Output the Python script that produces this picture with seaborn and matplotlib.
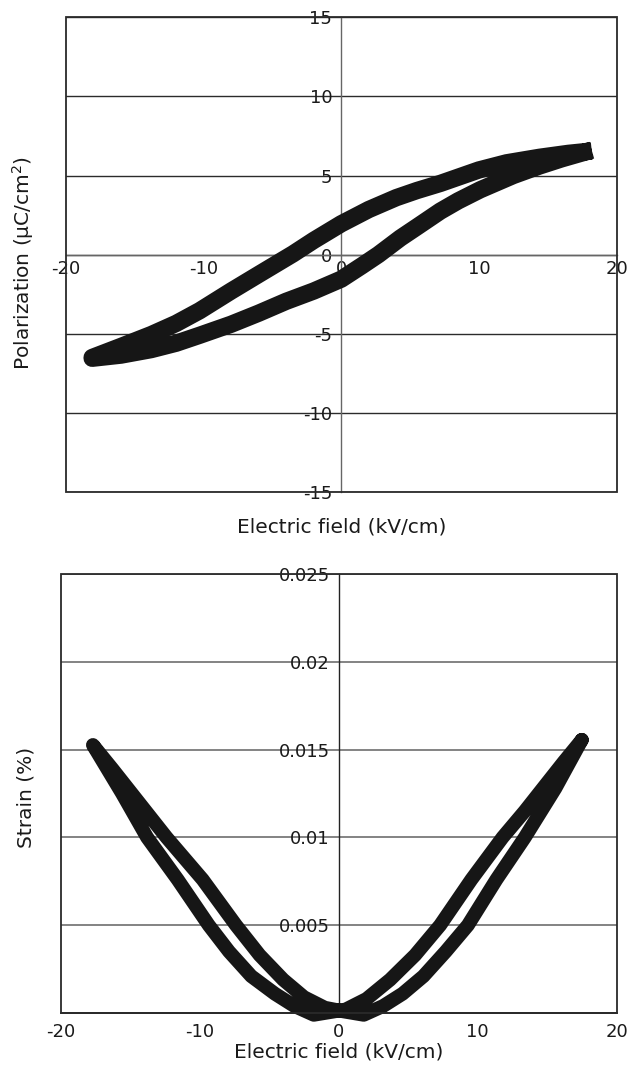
import matplotlib
matplotlib.use("Agg")
import matplotlib.pyplot as plt
import matplotlib.patches as mpatches
import numpy as np
import pandas as pd
import seaborn as sns

# ---- Polarization loop (field sweep down, then back up) ----
pe_field_down = [18.2, 16.5, 14.4, 12.0, 10.0, 7.2, 5.5, 4.0, 2.0, 0.0, -2.0, -3.5,
                 -5.9, -8.0, -10.3, -12.0, -13.8, -16.0, -18.1]
pe_pol_down = [6.55, 6.4, 6.15, 5.8, 5.35, 4.5, 4.05, 3.6, 2.85, 1.95, 0.9, 0.05,
               -1.2, -2.3, -3.55, -4.35, -5.05, -5.8, -6.5]
pe_field_up = [-18.1, -16.0, -13.8, -12.0, -10.3, -8.0, -6.0, -4.0, -2.0, 0.0, 1.5,
               2.7, 4.3, 5.5, 7.2, 8.5, 10.1, 12.5, 14.4, 16.0, 18.2]
pe_pol_up = [-6.55, -6.35, -6.0, -5.6, -5.1, -4.4, -3.7, -2.95, -2.3, -1.55, -0.7,
             0.0, 1.05, 1.75, 2.75, 3.4, 4.1, 5.0, 5.6, 6.05, 6.6]

# ---- Strain butterfly loop ----
se_field_down = [17.5, 16.2, 14.9, 13.4, 11.8, 9.55, 7.3, 5.5, 3.7, 2.0, 0.5, -1.8,
                 -3.2, -4.6, -6.3, -7.9, -9.36, -11.6, -13.8, -15.6, -17.7]
se_strain_down = [0.01555, 0.0143, 0.0130, 0.0115, 0.0100, 0.0076, 0.0050, 0.0033,
                  0.0019, 0.0008, 0.0002, -0.0001, 0.0004, 0.0011, 0.0021, 0.0035,
                  0.0050, 0.0076, 0.0100, 0.0125, 0.01526]
se_field_up = [-17.7, -16.3, -14.8, -12.4, -9.8, -7.4, -5.7, -4.0, -2.5, -1.0, 0.3,
               1.8, 3.2, 4.6, 6.1, 7.7, 9.3, 11.35, 13.4, 15.6, 17.5]
se_strain_up = [0.01526, 0.0139, 0.0124, 0.0100, 0.0076, 0.0050, 0.0033, 0.0019,
                0.0009, 0.0003, 0.0001, -0.0001, 0.0004, 0.0011, 0.0021, 0.0035,
                0.0050, 0.0076, 0.0100, 0.0128, 0.01555]

field_ticks = [-20, -10, 0, 10, 20]
pol_ticks = [-15, -10, -5, 0, 5, 10, 15]
strain_ticks = [0.005, 0.01, 0.015, 0.02, 0.025]
strain_tick_labels = ["0.005", "0.01", "0.015", "0.02", "0.025"]

pe = pd.DataFrame({
    "field": pe_field_down + pe_field_up,
    "pol": pe_pol_down + pe_pol_up,
})
se = pd.DataFrame({
    "field": se_field_down + se_field_up,
    "strain": se_strain_down + se_strain_up,
})

sns.set_theme(style="white")
plt.rcParams["font.family"] = ["DejaVu Sans"]
plt.rcParams["mathtext.fontset"] = "dejavusans"
plt.rcParams["axes.unicode_minus"] = False

ink = "#161616"
frame_col = "#2a2a2a"

fig = plt.figure(figsize=(6.28, 10.73), dpi=100)
ax1 = fig.add_axes([0.1051, 0.5415, 0.8766, 0.4424])
ax2 = fig.add_axes([0.0971, 0.0559, 0.8846, 0.4092])


def frame(ax):
    ax.add_patch(mpatches.Rectangle((0, 0), 1, 1, transform=ax.transAxes,
                                    fill=False, edgecolor=frame_col,
                                    linewidth=1.3, zorder=4, clip_on=False))


# ---------- top: polarization ----------
sns.lineplot(data=pe, x="field", y="pol", sort=False, estimator=None, ax=ax1,
             color=ink, linewidth=12.5, solid_capstyle="butt",
             solid_joinstyle="round", zorder=3)
ax1.set_xlim(-20, 20)
ax1.set_ylim(-15, 15)
ax1.set_xticks(field_ticks)
ax1.set_yticks(pol_ticks)
for s in ("top", "right"):
    ax1.spines[s].set_visible(False)
ax1.spines["left"].set_position(("data", 0))
ax1.spines["bottom"].set_position(("data", 0))
ax1.spines["left"].set_color("#666666")
ax1.spines["bottom"].set_color("#666666")
ax1.spines["left"].set_linewidth(1.0)
ax1.spines["bottom"].set_linewidth(1.0)
ax1.yaxis.grid(True, color="#2b2b2b", linewidth=1.0)
ax1.set_axisbelow(True)
ax1.tick_params(axis="both", direction="in", length=5.5, width=1.0,
                color="#444444", labelsize=13, labelcolor="#1a1a1a")
ax1.tick_params(axis="y", pad=6.5)
ax1.tick_params(axis="x", pad=4)
frame(ax1)
ax1.set_xlabel("Electric field (kV/cm)", fontsize=14.5, color="#1a1a1a", va="center")
ax1.xaxis.set_label_coords(0.5, -0.074)
ax1.set_ylabel("Polarization (μC/cm$^2$)", fontsize=14.5, color="#1a1a1a",
               va="center")
ax1.yaxis.set_label_coords(-0.078, 0.482)

# ---------- bottom: strain ----------
sns.lineplot(data=se, x="field", y="strain", sort=False, estimator=None, ax=ax2,
             color=ink, linewidth=10, solid_capstyle="round",
             solid_joinstyle="round", zorder=3, clip_on=False)
ax2.set_xlim(-20, 20)
ax2.set_ylim(0, 0.025)
ax2.set_xticks(field_ticks)
ax2.set_yticks(strain_ticks)
ax2.set_yticklabels(strain_tick_labels)
for s in ("top", "right"):
    ax2.spines[s].set_visible(False)
ax2.spines["left"].set_position(("data", 0))
ax2.spines["left"].set_color("#222222")
ax2.spines["left"].set_linewidth(1.0)
ax2.spines["bottom"].set_color(frame_col)
ax2.spines["bottom"].set_linewidth(1.3)
ax2.yaxis.grid(True, color="#6e6e6e", linewidth=1.2)
ax2.set_axisbelow(True)
ax2.tick_params(axis="both", direction="in", length=5.5, width=1.0,
                color="#444444", labelsize=13, labelcolor="#1a1a1a")
ax2.tick_params(axis="y", pad=6.5)
ax2.tick_params(axis="x", pad=7)
frame(ax2)
ax2.set_xlabel("Electric field (kV/cm)", fontsize=14.5, color="#1a1a1a", va="center")
ax2.xaxis.set_label_coords(0.5, -0.089)
ax2.set_ylabel("Strain (%)", fontsize=14.5, color="#1a1a1a", va="center")
ax2.yaxis.set_label_coords(-0.063, 0.492)

fig.savefig("out.png", dpi=100)
